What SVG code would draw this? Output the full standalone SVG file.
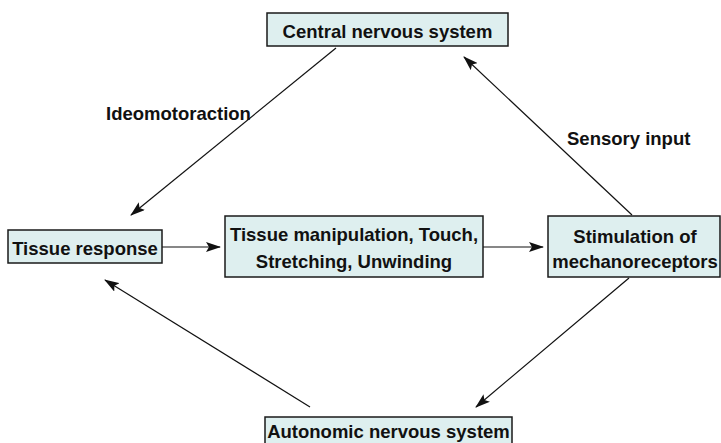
<svg xmlns="http://www.w3.org/2000/svg" width="721" height="443" viewBox="0 0 721 443">
<defs>
<style>
.box{fill:#deefef;stroke:#1a1a1a;stroke-width:1.5}
.t{font-family:"Liberation Sans",Arial,sans-serif;font-weight:bold;font-size:18.5px;fill:#111;text-anchor:middle}
.lbl{font-family:"Liberation Sans",Arial,sans-serif;font-weight:bold;font-size:18.5px;fill:#111}
.c{stroke:#111;stroke-width:1.2;fill:none;marker-end:url(#ah)}
</style>
<marker id="ah" viewBox="0 0 15 10" refX="14" refY="5" markerWidth="15" markerHeight="10" markerUnits="userSpaceOnUse" orient="auto">
<path d="M0,0 L15,5 L0,10 L3,5 Z" fill="#111"/>
</marker>
</defs>
<rect width="721" height="443" fill="#fff"/>
<g id="connectors">
<line class="c" x1="336" y1="48" x2="131" y2="215"/>
<line class="c" x1="632" y1="215" x2="464" y2="57"/>
<line class="c" x1="629" y1="278" x2="476" y2="407"/>
<line class="c" x1="310" y1="407" x2="105" y2="280"/>
<line class="c" x1="162" y1="247" x2="220" y2="247"/>
<line class="c" x1="483" y1="247" x2="543" y2="247"/>
</g>
<g id="central">
<rect class="box" x="267" y="13" width="241" height="33"/>
<text class="t" x="387.5" y="38">Central nervous system</text>
</g>
<g id="tissue-response">
<rect class="box" x="8" y="230" width="154" height="33"/>
<text class="t" x="85" y="254.5">Tissue response</text>
</g>
<g id="tissue-manipulation">
<rect class="box" x="225" y="216" width="258" height="61"/>
<text class="t" x="354" y="241">Tissue manipulation, Touch,</text>
<text class="t" x="354" y="268">Stretching, Unwinding</text>
</g>
<g id="stimulation">
<rect class="box" x="548" y="216" width="172" height="61"/>
<text class="t" x="635" y="243">Stimulation of</text>
<text class="t" x="635" y="268">mechanoreceptors</text>
</g>
<g id="autonomic">
<rect class="box" x="265" y="417" width="247" height="30"/>
<text class="t" x="388.5" y="437.5">Autonomic nervous system</text>
</g>
<g id="labels">
<text class="lbl" x="106" y="120">Ideomotoraction</text>
<text class="lbl" x="567" y="145">Sensory input</text>
</g>
</svg>
